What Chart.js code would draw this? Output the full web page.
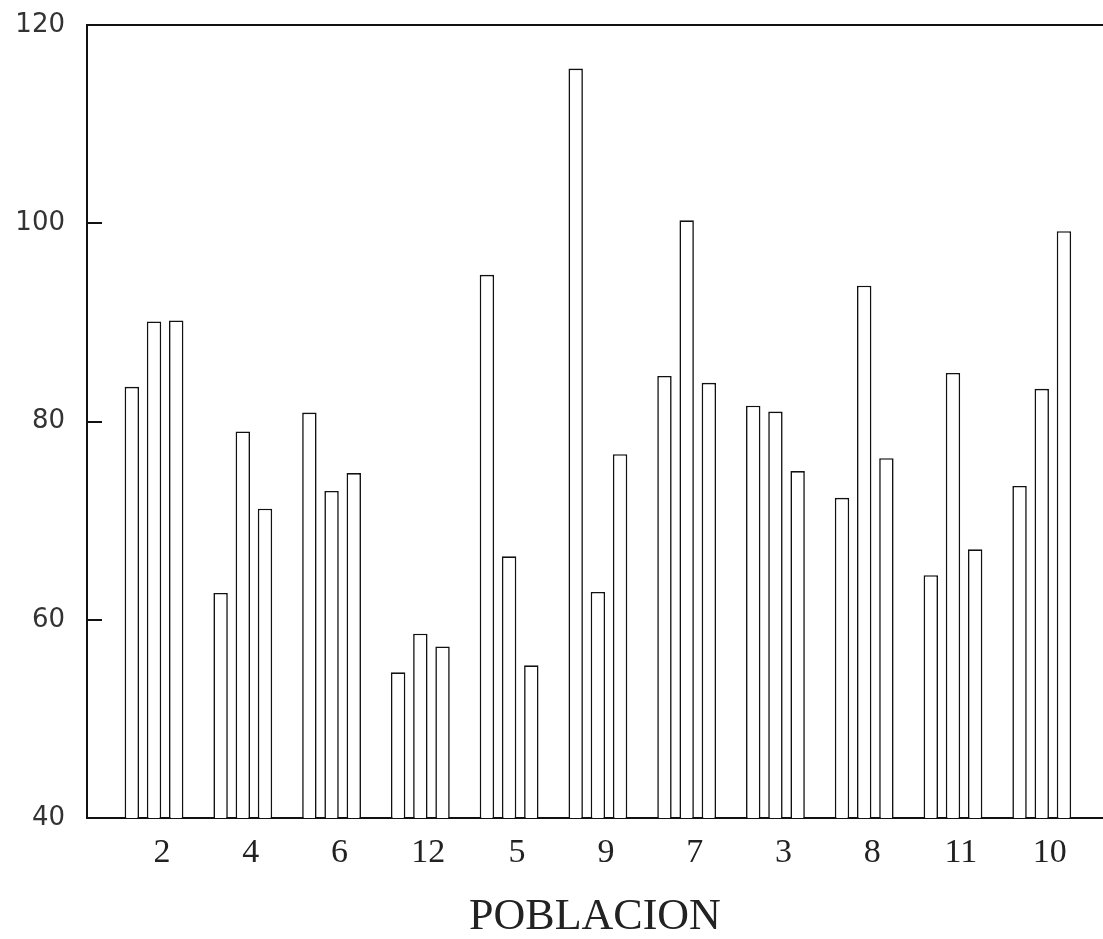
<!DOCTYPE html>
<html>
<head>
<meta charset="utf-8">
<script src="https://cdn.jsdelivr.net/npm/chart.js@4.4.1/dist/chart.umd.min.js"></script>
<style>
  html, body { margin: 0; padding: 0; background: #fff; }
  #wrap { width: 1103px; height: 939px; position: relative; }
</style>
</head>
<body>
<div id="wrap"><canvas id="poblacionChart"></canvas></div>
<script>
// Data
var poblaciones = ['2', '4', '6', '12', '5', '9', '7', '3', '8', '11', '10'];
var serieA = [83.5, 62.7, 80.9, 54.7, 94.8, 115.6, 84.6, 81.6, 72.3, 64.5, 73.5];
var serieB = [90.1, 79.0, 73.0, 58.6, 66.4, 62.8, 100.3, 81.0, 93.7, 84.9, 83.3];
var serieC = [90.2, 71.2, 74.8, 57.3, 55.4, 76.7, 83.9, 75.0, 76.3, 67.1, 99.2];
var yTicks = [40, 60, 80, 100, 120];

function toPoints(values) {
    return values.map(function(v, i) { return { x: i, y: v }; });
}

// top border line and inward tick marks on the y axis
var framePlugin = {
    id: 'frame',
    afterDraw: function(chart) {
        var ctx = chart.ctx;
        var area = chart.chartArea;
        var y = chart.scales.y;
        ctx.save();
        ctx.strokeStyle = '#111';
        ctx.lineWidth = 2;
        ctx.beginPath();
        ctx.moveTo(area.left, area.top);
        ctx.lineTo(area.right, area.top);
        y.ticks.forEach(function(t) {
            var py = Math.round(y.getPixelForValue(t.value));
            ctx.moveTo(area.left, py);
            ctx.lineTo(area.left + 15, py);
        });
        ctx.stroke();
        ctx.restore();
    }
};

var barStyle = {
    backgroundColor: '#ffffff',
    borderColor: '#111111',
    borderWidth: 1.6,
    categoryPercentage: 0.75,
    barPercentage: 0.65
};

var ctx = document.getElementById('poblacionChart').getContext('2d');
var chart = new Chart(ctx, {
    type: 'bar',
    data: {
        datasets: [
            Object.assign({ label: 'A', data: toPoints(serieA) }, barStyle),
            Object.assign({ label: 'B', data: toPoints(serieB) }, barStyle),
            Object.assign({ label: 'C', data: toPoints(serieC) }, barStyle)
        ]
    },
    plugins: [framePlugin],
    options: {
        responsive: true,
        maintainAspectRatio: false,
        animation: false,
        layout: { padding: { top: 25, right: 0, bottom: 0, left: 0 } },
        plugins: {
            legend: { display: false },
            tooltip: { enabled: false }
        },
        scales: {
            x: {
                type: 'linear',
                min: -0.755,
                max: 10.69,
                offset: false,
                grid: { display: false, drawTicks: false },
                border: { display: true, color: '#111', width: 2 },
                afterBuildTicks: function(scale) {
                    scale.ticks = poblaciones.map(function(p, i) { return { value: i }; });
                },
                afterFit: function(scale) { scale.height = 121; },
                ticks: {
                    autoSkip: false,
                    maxRotation: 0,
                    padding: 15,
                    labelOffset: 8,
                    color: '#222',
                    font: { family: 'Liberation Serif', size: 34 },
                    callback: function(value) { return poblaciones[value]; }
                },
                title: {
                    display: true,
                    text: 'POBLACION',
                    color: '#222',
                    padding: { top: 0, bottom: 0 },
                    font: { family: 'Liberation Serif', size: 44, lineHeight: 1 }
                }
            },
            y: {
                min: 40,
                max: 120,
                grid: { display: false, drawTicks: false },
                border: { display: true, color: '#111', width: 2 },
                afterBuildTicks: function(scale) {
                    scale.ticks = yTicks.map(function(v) { return { value: v }; });
                },
                afterFit: function(scale) {
                    scale.width = 87;
                    scale.paddingTop = 0;
                    scale.paddingBottom = 0;
                },
                ticks: {
                    padding: 22,
                    color: '#333',
                    font: { family: 'DejaVu Sans', size: 26, weight: 'normal' }
                }
            }
        }
    }
});
</script>
</body>
</html>
